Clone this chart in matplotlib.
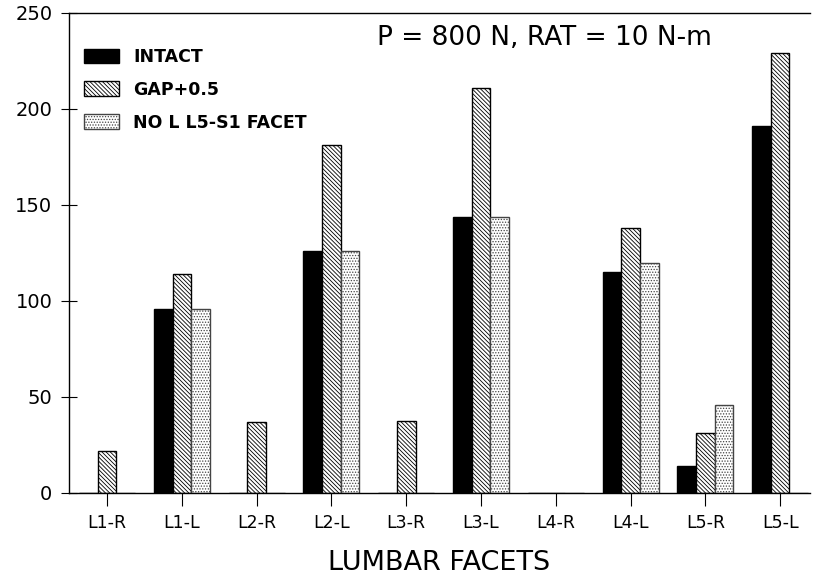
import numpy as np
import matplotlib
matplotlib.use("Agg")
import matplotlib.pyplot as plt

# --- datos ---
facetas = ["L1-R", "L1-L", "L2-R", "L2-L", "L3-R", "L3-L", "L4-R", "L4-L", "L5-R", "L5-L"]
intacto = [0, 96, 0, 126, 0, 144, 0, 115, 14, 191]
gap_05 = [22, 114, 37, 181, 37.5, 211, 0, 138, 31, 229]
sin_faceta = [0, 96, 0, 126, 0, 144, 0, 120, 46, 0]
series = ["INTACT", "GAP+0.5", "NO L L5-S1 FACET"]

plt.rcParams['font.family'] = ['DejaVu Sans']
plt.rcParams['hatch.linewidth'] = 0.6

fig = plt.figure(figsize=(8.15, 5.79), dpi=100)
ax = fig.add_axes([69 / 815, 86 / 579, 741 / 815, 480 / 579])

x = np.arange(len(facetas))
ancho = 0.25

ax.bar(x - ancho, intacto, ancho, color='black', edgecolor='black',
       linewidth=1.0, label=series[0])
ax.bar(x, gap_05, ancho, color='white', edgecolor='black', hatch='\\' * 8,
       linewidth=1.0, label=series[1])
ax.bar(x + ancho, sin_faceta, ancho, color='white', edgecolor='#444444', hatch='.' * 6,
       linewidth=1.0, label=series[2])

ax.set_xlim(-0.51, 9.4)
ax.set_ylim(0, 250)
ax.set_yticks([0, 50, 100, 150, 200, 250])
ax.set_xticks(x)
ax.set_xticklabels(facetas)

ax.tick_params(axis='y', direction='inout', length=12, width=0.8, pad=6, labelsize=14)
ax.tick_params(axis='x', direction='out', length=9, width=0.8, pad=6, labelsize=12.5)

ax.spines['right'].set_visible(False)
for lado in ['left', 'bottom', 'top']:
    ax.spines[lado].set_linewidth(1.0)

ax.set_xlabel("LUMBAR FACETS", fontsize=19.5, labelpad=13)

ax.text(0.642, 0.947, "P = 800 N, RAT = 10 N-m", transform=ax.transAxes,
        ha='center', va='center', fontsize=19)

ax.legend(loc='upper left', bbox_to_anchor=(0.02, 0.927), frameon=False,
          borderpad=0, borderaxespad=0, handlelength=2.0, handleheight=0.92,
          labelspacing=0.85, handletextpad=0.86,
          prop={'size': 12.5, 'weight': 'bold'})

fig.savefig("out.png", dpi=100, facecolor='white')
